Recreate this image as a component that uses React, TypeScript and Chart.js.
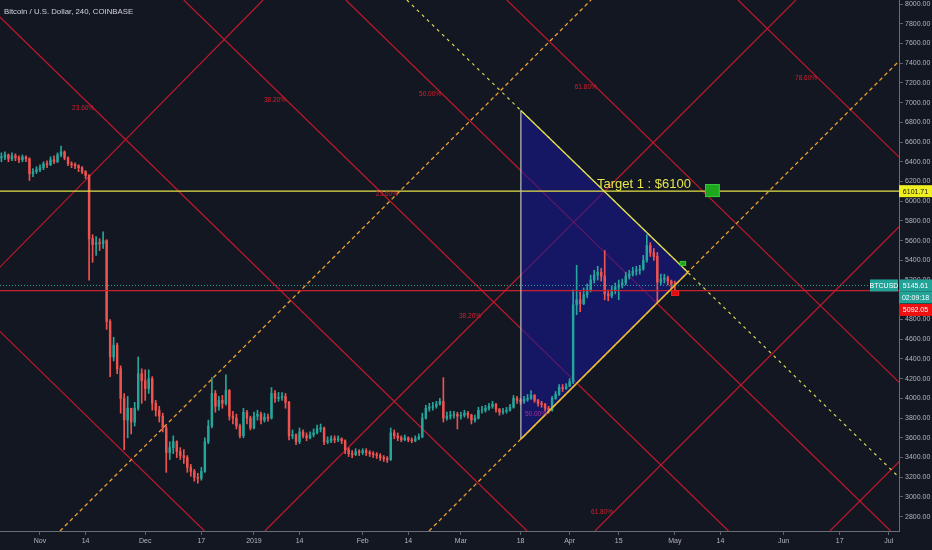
import React, { useEffect, useRef } from "react";
import { Chart, registerables } from "chart.js";
Chart.register(...registerables);

// Day 0 = 1 Nov 2018; one candle per day
const START_DAY = -11;
const FIRST_OPEN = 6440;
const closes = [
  6450, 6470, 6430, 6460, 6440, 6420, 6450, 6430, 6280, 6300, 6320,
  6340, 6380, 6370, 6420, 6400, 6470, 6500, 6440, 6380, 6370, 6360, 6340, 6300, 6260,
  5620, 5560, 5580, 5570, 5600, 4780, 4420, 4540, 4300, 4000, 3780, 3900, 3760, 3900,
  4250, 4180, 4100, 4200, 3950, 3880, 3820, 3700, 3450, 3500, 3560, 3460, 3420, 3400,
  3300, 3260, 3200, 3190, 3260, 3560, 3720, 4050, 3920, 3980, 3950, 4080, 3820, 3800,
  3720, 3620, 3860, 3800, 3700, 3820, 3840, 3780, 3810, 3800, 4050, 4000, 4010, 4020,
  3960, 3620, 3630, 3560, 3660, 3620, 3600, 3630, 3650, 3690, 3700, 3560, 3570, 3590,
  3580, 3590, 3570, 3480, 3440, 3430, 3460, 3450, 3470, 3450, 3440, 3430, 3420, 3400,
  3390, 3380, 3650, 3620, 3600, 3580, 3600, 3580, 3570, 3590, 3610, 3800, 3900, 3910,
  3920, 3940, 3970, 3800, 3820, 3830, 3840, 3820, 3830, 3850, 3830, 3780, 3800, 3880,
  3880, 3900, 3920, 3940, 3890, 3860, 3870, 3880, 3910, 4000, 3980, 3970, 3990, 4000,
  4030, 3980, 3950, 3940, 3900, 3880, 4000, 4040, 4110, 4100, 4120, 4170, 4950, 5000,
  4960, 5050, 5100, 5200, 5250, 5280, 5240, 5060, 5040, 5100, 5130, 5150, 5170, 5240,
  5260, 5290, 5300, 5310, 5400, 5550, 5480, 5440, 5180, 5210, 5220, 5190, 5160, 5145.61,
];
const highs = [
  6490, 6500, 6480, 6490, 6480, 6460, 6470, 6460, 6440, 6330, 6350,
  6370, 6400, 6410, 6450, 6460, 6490, 6560, 6510, 6450, 6400, 6390, 6370, 6350, 6310,
  6270, 5660, 5640, 5620, 5690, 5610, 4800, 4620, 4560, 4330, 4050, 4020, 3900, 3960,
  4420, 4300, 4290, 4290, 4220, 3980, 3920, 3850, 3720, 3560, 3620, 3570, 3500, 3480,
  3420, 3330, 3280, 3240, 3300, 3600, 3780, 4210, 4080, 4020, 4030, 4240, 4090, 3870,
  3840, 3740, 3900, 3880, 3820, 3860, 3880, 3860, 3850, 3840, 4110, 4080, 4060, 4060,
  4050, 3970, 3680, 3640, 3700, 3680, 3650, 3660, 3690, 3730, 3740, 3710, 3610, 3620,
  3620, 3620, 3600, 3580, 3500, 3470, 3490, 3480, 3490, 3490, 3470, 3460, 3450, 3440,
  3420, 3410, 3700, 3680, 3650, 3620, 3630, 3610, 3600, 3620, 3640, 3850, 3930, 3950,
  3960, 3970, 4000, 4210, 3860, 3870, 3870, 3860, 3860, 3880, 3870, 3840, 3830, 3910,
  3920, 3930, 3950, 3970, 3950, 3900, 3900, 3910, 3940, 4030, 4020, 4000, 4020, 4040,
  4080, 4040, 3990, 3970, 3950, 3920, 4020, 4070, 4140, 4140, 4150, 4200, 5100, 5350,
  5080, 5120, 5160, 5250, 5300, 5340, 5320, 5500, 5100, 5140, 5170, 5200, 5210, 5280,
  5300, 5330, 5340, 5350, 5450, 5660, 5580, 5520, 5480, 5260, 5260, 5240, 5200, 5190,
];
const lows = [
  6400, 6420, 6400, 6410, 6410, 6390, 6400, 6400, 6210, 6250, 6280,
  6300, 6320, 6340, 6360, 6380, 6390, 6450, 6420, 6360, 6340, 6330, 6300, 6280, 6230,
  5200, 5380, 5450, 5500, 5520, 4700, 4220, 4380, 4250, 3850, 3480, 3600, 3640, 3720,
  3880, 3950, 3980, 4050, 3880, 3820, 3760, 3660, 3250, 3380, 3440, 3400, 3380, 3340,
  3250, 3210, 3160, 3140, 3170, 3250, 3540, 3700, 3860, 3880, 3900, 3930, 3780, 3740,
  3690, 3600, 3600, 3740, 3680, 3690, 3780, 3740, 3760, 3770, 3790, 3960, 3970, 3980,
  3900, 3580, 3590, 3530, 3540, 3600, 3570, 3590, 3610, 3640, 3660, 3530, 3540, 3550,
  3550, 3560, 3540, 3440, 3410, 3400, 3420, 3420, 3430, 3420, 3410, 3400, 3390, 3370,
  3360, 3350, 3370, 3590, 3570, 3560, 3570, 3560, 3550, 3560, 3580, 3600, 3790, 3870,
  3880, 3900, 3930, 3760, 3780, 3790, 3800, 3690, 3790, 3810, 3800, 3740, 3760, 3790,
  3850, 3860, 3880, 3900, 3860, 3830, 3840, 3850, 3870, 3900, 3950, 3940, 3950, 3970,
  3990, 3960, 3920, 3910, 3870, 3850, 3870, 3990, 4030, 4070, 4090, 4130, 4150, 4850,
  4880, 4950, 5020, 5080, 5170, 5200, 5190, 5000, 4990, 5020, 5060, 5000, 5120, 5150,
  5210, 5240, 5250, 5260, 5300, 5380, 5440, 5400, 4980, 5150, 5170, 5150, 5110, 5090,
];

const xTickDays = [0, 13, 30, 46, 61, 74, 92, 105, 120, 137, 151, 165, 181, 194, 212, 228, 242];
const xTickLabels = ["Nov", "14", "Dec", "17", "2019", "14", "Feb", "14", "Mar", "18", "Apr", "15", "May", "14", "Jun", "17", "Jul"];
const yTicks = [2800, 3000, 3200, 3400, 3600, 3800, 4000, 4200, 4400, 4600, 4800, 5000, 5200, 5400, 5600, 5800, 6000, 6200, 6400, 6600, 6800, 7000, 7200, 7400, 7600, 7800, 8000];

const X_MIN = -11.4;
const X_MAX = 244.9;
const Y_MIN = 2655;
const Y_MAX = 8040.6;

// drawing-tool lines [day1, price1, day2, price2]
const redLines = [
  [-108.3, 8040.6, 46.9, 2655],
  [-16.4, 8040.6, 138.9, 2655],
  [41.0, 8040.6, 196.3, 2655],
  [87.2, 8040.6, 242.5, 2655],
  [133.1, 8040.6, 288.4, 2655],
  [199.0, 8040.6, 354.2, 2655],
  [-17.1, 5127, 63.6, 8040.6],
  [64.1, 2655, 215.5, 8040.6],
  [158.2, 2655, 309.6, 8040.6],
  [225.2, 2655, 376.6, 8040.6],
];
const orangeDashed = [
  [5.7, 2655, 157.1, 8040.6],
  [110.9, 2655, 262.3, 8040.6],
];
const yellowDashed = [104.6, 8040.6, 260.7, 2655];

const triDays = [137.1, 184.7];
const triTopPrices = [6920, 5279];
const triBottomPrices = [3587, 5279];

const targetPrice = 6101.71;
const lastPrice = 5145.61;
const redLevel = 5092.05;

const fibTexts = ["23.60%", "38.20%", "50.00%", "61.80%", "78.60%", "23.60%", "38.20%", "50.00%", "61.80%"];
const fibDays = [12.3, 67.0, 111.2, 155.6, 218.4, 98.9, 122.6, 141.4, 160.2];
const fibPrices = [6945, 7026, 7087, 7158, 7249, 6073, 4836, 3842, 2848];

const targetText = "Target 1 : $6100";
const targetTextPos = [158.8, 6174];
// boxes [day1, day2, priceTop, priceBottom]
const greenBox = [189.6, 193.8, 6174, 6042];
const smallGreenBox = [182.4, 184.2, 5394, 5343];
const smallRedBox = [179.9, 182.2, 5099, 5039];

const BG = "#131722";
const UP = "#26a69a";
const DOWN = "#ef5350";
const RED_LINE = "rgb(196,24,44)";
const FONT = "'Liberation Sans', Arial, sans-serif";

const seg = (l: number[]) => [
  { x: l[0], y: l[1] },
  { x: l[2], y: l[3] },
];

export default function App() {
  const ref = useRef<HTMLCanvasElement | null>(null);
  useEffect(() => {
    if (!ref.current) return;
    const days = closes.map((_, i) => START_DAY + i);
    const opens = closes.map((_, i) => (i === 0 ? FIRST_OPEN : closes[i - 1]));
    const colorFn = (ctx: any) => {
      const i = ctx.dataIndex;
      return closes[i] >= opens[i] ? UP : DOWN;
    };
    const line = (data: any[], color: string, order: number, extra: any = {}) => ({
      type: "line",
      data,
      borderColor: color,
      borderWidth: 1,
      pointRadius: 0,
      fill: false,
      tension: 0,
      order,
      ...extra,
    });
    const datasets: any[] = [];
    redLines.forEach((l) => datasets.push(line(seg(l), RED_LINE, 20, { borderWidth: 1.15 })));
    orangeDashed.forEach((l) =>
      datasets.push(line(seg(l), "#f0a030", 19, { borderDash: [4, 3], borderWidth: 1.3 }))
    );
    datasets.push(line(seg(yellowDashed), "#d8d850", 19, { borderDash: [3, 4], borderWidth: 1.2 }));
    // triangle fill
    datasets.push(
      line(
        triDays.map((d, i) => ({ x: d, y: triTopPrices[i] })),
        "rgba(0,0,0,0)",
        15,
        { borderWidth: 0 }
      )
    );
    datasets.push(
      line(
        triDays.map((d, i) => ({ x: d, y: triBottomPrices[i] })),
        "rgba(0,0,0,0)",
        15,
        { borderWidth: 0, fill: "-1", backgroundColor: "rgba(24,24,140,0.62)" }
      )
    );
    // candles
    datasets.push({
      type: "bar",
      data: days.map((d, i) => ({ x: d, y: [lows[i], highs[i]] })),
      backgroundColor: colorFn,
      barThickness: 1,
      grouped: false,
      order: 10,
    });
    datasets.push({
      type: "bar",
      data: days.map((d, i) => ({ x: d, y: [opens[i], closes[i]] })),
      backgroundColor: colorFn,
      barThickness: 1.8,
      grouped: false,
      order: 9,
    });
    // horizontal lines
    datasets.push(line(seg([X_MIN, targetPrice, X_MAX, targetPrice]), "#e2e246", 5, { borderWidth: 1.2 }));
    datasets.push(line(seg([X_MIN, redLevel, X_MAX, redLevel]), "#c8202e", 5, { borderWidth: 1.3 }));
    datasets.push(line(seg([X_MIN, lastPrice, X_MAX, lastPrice]), UP, 5, { borderDash: [1, 2] }));
    // triangle edges
    datasets.push(
      line(triDays.map((d, i) => ({ x: d, y: triTopPrices[i] })), "#e6e64a", 3, { borderWidth: 1.2 })
    );
    datasets.push(
      line(triDays.map((d, i) => ({ x: d, y: triBottomPrices[i] })), "#f2c02a", 3, { borderWidth: 1.5 })
    );
    datasets.push(
      line(
        [
          { x: triDays[0], y: triTopPrices[0] },
          { x: triDays[0], y: triBottomPrices[0] },
        ],
        "#c0c0c4",
        3,
        { borderWidth: 1.2 }
      )
    );

    const bgPlugin = {
      id: "bg",
      beforeDraw(chart: any) {
        const c = chart.ctx;
        c.save();
        c.fillStyle = BG;
        c.fillRect(0, 0, chart.width, chart.height);
        c.restore();
      },
    };

    const overlayPlugin = {
      id: "overlay",
      afterDatasetsDraw(chart: any) {
        const c = chart.ctx;
        const xs = chart.scales.x;
        const ys = chart.scales.y;
        const ca = chart.chartArea;
        c.save();
        c.beginPath();
        c.rect(ca.left, ca.top, ca.right - ca.left, ca.bottom - ca.top);
        c.clip();
        // fib labels
        c.font = `6.5px ${FONT}`;
        c.textAlign = "center";
        c.textBaseline = "middle";
        fibTexts.forEach((t, i) => {
          c.fillStyle = i === 7 ? "#a8309a" : "#d0202c";
          c.fillText(t, xs.getPixelForValue(fibDays[i]), ys.getPixelForValue(fibPrices[i]));
        });
        // boxes
        const box = (b: number[], fill: string, stroke: string) => {
          const x1 = xs.getPixelForValue(b[0]);
          const x2 = xs.getPixelForValue(b[1]);
          const y1 = ys.getPixelForValue(b[2]);
          const y2 = ys.getPixelForValue(b[3]);
          c.fillStyle = fill;
          c.fillRect(x1, y1, x2 - x1, y2 - y1);
          c.strokeStyle = stroke;
          c.lineWidth = 1;
          c.strokeRect(x1 + 0.5, y1 + 0.5, x2 - x1 - 1, y2 - y1 - 1);
        };
        box(greenBox, "#1fa61f", "#37c837");
        box(smallGreenBox, "#1fa61f", "#37c837");
        box(smallRedBox, "#e01010", "#f02020");
        // target text
        c.font = `13px ${FONT}`;
        c.textAlign = "left";
        c.fillStyle = "#e6e64a";
        c.fillText(targetText, xs.getPixelForValue(targetTextPos[0]), ys.getPixelForValue(targetTextPos[1]));
        c.restore();
      },
      afterDraw(chart: any) {
        const c = chart.ctx;
        const ys = chart.scales.y;
        const ca = chart.chartArea;
        c.save();
        // title
        c.font = `7.8px ${FONT}`;
        c.fillStyle = "#d1d4dc";
        c.textAlign = "left";
        c.textBaseline = "middle";
        c.fillText("Bitcoin / U.S. Dollar, 240, COINBASE", 4, 12);
        // price tags
        const tag = (y: number, x1: number, x2: number, fill: string, text: string, color: string) => {
          c.fillStyle = fill;
          c.fillRect(x1, y - 6, x2 - x1, 12);
          c.fillStyle = color;
          c.font = `7px ${FONT}`;
          c.textAlign = "center";
          c.fillText(text, (x1 + x2) / 2, y + 0.5);
        };
        const right = chart.width;
        const yT = ys.getPixelForValue(targetPrice);
        tag(yT, ca.right, right, "#f0f020", targetPrice.toFixed(2), "#131722");
        const yL = ys.getPixelForValue(lastPrice);
        tag(yL, ca.right - 29, ca.right - 1, "#22a398", "BTCUSD", "#ffffff");
        tag(yL, ca.right, right, "#22a398", lastPrice.toFixed(2), "#ffffff");
        tag(yL + 12, ca.right, right, "#22a398", "02:09:18", "#ffffff");
        tag(yL + 24.5, ca.right, right, "#f01010", redLevel.toFixed(2), "#ffffff");
        c.restore();
      },
    };

    const chart = new Chart(ref.current, {
      type: "bar",
      data: { datasets },
      options: {
        responsive: false,
        animation: false,
        events: [],
        layout: { padding: 0 },
        plugins: {
          legend: { display: false },
          tooltip: { enabled: false },
          title: { display: false },
        },
        scales: {
          x: {
            type: "linear",
            min: X_MIN,
            max: X_MAX,
            offset: false,
            afterBuildTicks: (s: any) => {
              s.ticks = xTickDays.map((v) => ({ value: v }));
            },
            afterFit: (s: any) => {
              s.height = 19;
              s.paddingLeft = 0;
              s.paddingRight = 0;
            },
            ticks: {
              autoSkip: false,
              maxRotation: 0,
              color: "#b2b5be",
              font: { size: 7, family: FONT },
              padding: 2,
              callback: (_v: any, i: number) => xTickLabels[i],
            },
            grid: { display: true, drawOnChartArea: false, tickLength: 4, color: "#5d606b", offset: false },
            border: { display: true, color: "#6a6d78" },
          },
          y: {
            type: "linear",
            position: "right",
            min: Y_MIN,
            max: Y_MAX,
            afterBuildTicks: (s: any) => {
              s.ticks = yTicks.map((v) => ({ value: v }));
            },
            afterFit: (s: any) => {
              s.width = 33;
              s.paddingTop = 0;
              s.paddingBottom = 0;
            },
            ticks: {
              color: "#b2b5be",
              font: { size: 7, family: FONT },
              padding: 2,
              callback: (v: any) => Number(v).toFixed(2),
            },
            grid: { display: true, drawOnChartArea: false, tickLength: 4, color: "#5d606b" },
            border: { display: true, color: "#6a6d78" },
          },
        },
      } as any,
      plugins: [bgPlugin, overlayPlugin],
    } as any);
    return () => chart.destroy();
  }, []);

  return (
    <div style={{ position: "fixed", left: 0, top: 0, width: 932, height: 550, background: BG }}>
      <canvas ref={ref} width={932} height={550} style={{ display: "block" }} />
    </div>
  );
}
